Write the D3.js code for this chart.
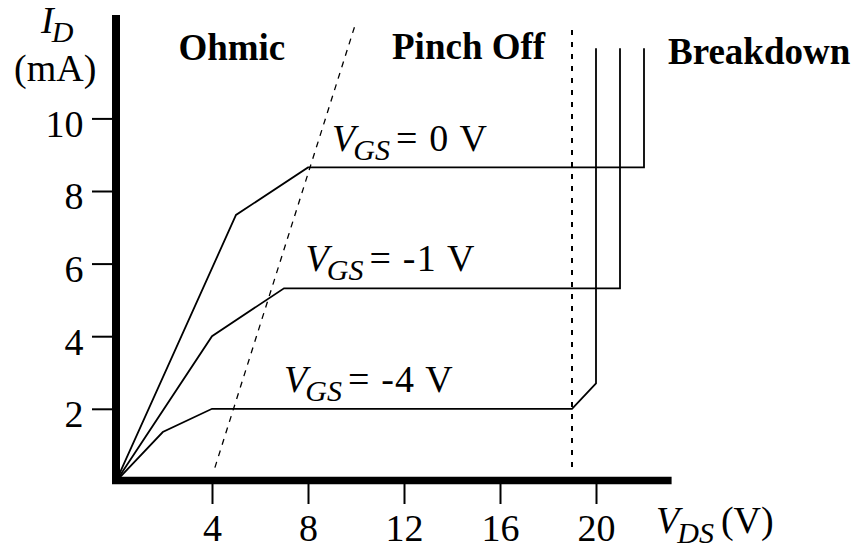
<!DOCTYPE html>
<html>
<head>
<meta charset="utf-8">
<script src="https://cdn.jsdelivr.net/npm/d3@7"></script>
<style>
  html, body { margin: 0; padding: 0; background: #fff; }
  svg { display: block; }
  text { font-family: "Liberation Serif", "Times New Roman", serif; fill: #000; }
</style>
</head>
<body>
<svg id="chart" width="852" height="548"></svg>
<script>
// ---- data ----
const xTicks = [4, 8, 12, 16, 20];
const yTicks = [2, 4, 6, 8, 10];
const vgs0 = [[0, 0], [5, 7.34], [8, 8.65], [22, 8.65], [22, 11.93]];
const vgs1 = [[0, 0], [4, 4], [7, 5.32], [21, 5.32], [21, 11.93]];
const vgs4 = [[0, 0], [1.95, 1.36], [4, 2], [19, 2], [20, 2.7], [20, 11.93]];
const ohmicBoundary = [[4.12, 0.38], [10.0, 12.65]];
const pinchBoundary = [[19, 0.4], [19, 12.6]];
const curveLabels = [
  { v: 9.0, i: 9.1, text: "= 0 V" },
  { v: 7.9, i: 5.8, text: "= -1 V" },
  { v: 7.0, i: 2.45, text: "= -4 V" }
];
const regionLabels = [
  { v: 2.6, i: 11.62, text: "Ohmic" },
  { v: 11.5, i: 11.65, text: "Pinch Off" },
  { v: 23.0, i: 11.51, text: "Breakdown" }
];

// ---- scales ----
const x = d3.scaleLinear().domain([0, 24]).range([116, 692]);
const y = d3.scaleLinear().domain([0, 12]).range([481.4, 45.8]);

const svg = d3.select("#chart");
const line = d3.line().x(d => x(d[0])).y(d => y(d[1]));

const FS = 38, SUB = 30;

// boundaries
svg.append("path").datum(ohmicBoundary).attr("d", line)
  .attr("fill", "none").attr("stroke", "#000").attr("stroke-width", 1.3)
  .attr("stroke-dasharray", "6,6");
svg.append("path").datum(pinchBoundary).attr("d", line)
  .attr("fill", "none").attr("stroke", "#000").attr("stroke-width", 2)
  .attr("stroke-dasharray", "5,7");

// curves
[vgs0, vgs1, vgs4].forEach(c => {
  svg.append("path").datum(c).attr("d", line)
    .attr("fill", "none").attr("stroke", "#000").attr("stroke-width", 1.8)
    .attr("stroke-linejoin", "miter");
});

// axes lines (thick)
svg.append("line").attr("x1", x(0)).attr("x2", x(0))
  .attr("y1", y(12.85)).attr("y2", 484)
  .attr("stroke", "#000").attr("stroke-width", 8);
svg.append("line").attr("x1", 112).attr("x2", x(23.15))
  .attr("y1", 480.5).attr("y2", 480.5)
  .attr("stroke", "#000").attr("stroke-width", 7.5);

// x axis ticks
const gx = svg.append("g").attr("transform", "translate(0,484)")
  .call(d3.axisBottom(x).tickValues(xTicks).tickSize(20).tickPadding(10).tickFormat(d3.format("d")));
gx.select(".domain").remove();
gx.selectAll(".tick line").attr("stroke", "#000").attr("stroke-width", 2);
gx.selectAll(".tick text").attr("font-size", FS).attr("font-family", "Liberation Serif");

// y axis ticks
const gy = svg.append("g").attr("transform", "translate(112,0)")
  .call(d3.axisLeft(y).tickValues(yTicks).tickSize(20).tickPadding(8.5).tickFormat(d3.format("d")));
gy.select(".domain").remove();
gy.selectAll(".tick line").attr("stroke", "#000").attr("stroke-width", 2);
gy.selectAll(".tick text").attr("font-size", FS).attr("font-family", "Liberation Serif").attr("dy", "0.47em");

// axis titles
const ty = svg.append("text").attr("x", 41).attr("y", 33).attr("font-size", FS);
ty.append("tspan").attr("font-style", "italic").text("I");
ty.append("tspan").attr("font-style", "italic").attr("font-size", SUB).attr("dy", 9).attr("dx", -2).text("D");
svg.append("text").attr("x", 14).attr("y", 81).attr("font-size", FS).text("(mA)");

const tx = svg.append("text").attr("x", 656).attr("y", 533).attr("font-size", FS);
tx.append("tspan").attr("font-style", "italic").text("V");
tx.append("tspan").attr("font-style", "italic").attr("font-size", SUB).attr("dy", 10).attr("dx", -2).text("DS");
tx.append("tspan").attr("dy", -10).attr("dx", 7).text("(V)");

// curve labels
curveLabels.forEach(l => {
  const t = svg.append("text").attr("x", x(l.v)).attr("y", y(l.i)).attr("font-size", FS);
  t.append("tspan").attr("font-style", "italic").text("V");
  t.append("tspan").attr("font-style", "italic").attr("font-size", SUB).attr("dy", 9).attr("dx", -2).text("GS");
  t.append("tspan").attr("dy", -9).attr("dx", 6).attr("letter-spacing", 1.2).text(l.text);
});

// region labels
regionLabels.forEach(l => {
  svg.append("text").attr("x", x(l.v)).attr("y", y(l.i))
    .attr("font-size", 37).attr("font-weight", "bold").text(l.text);
});
</script>
</body>
</html>
